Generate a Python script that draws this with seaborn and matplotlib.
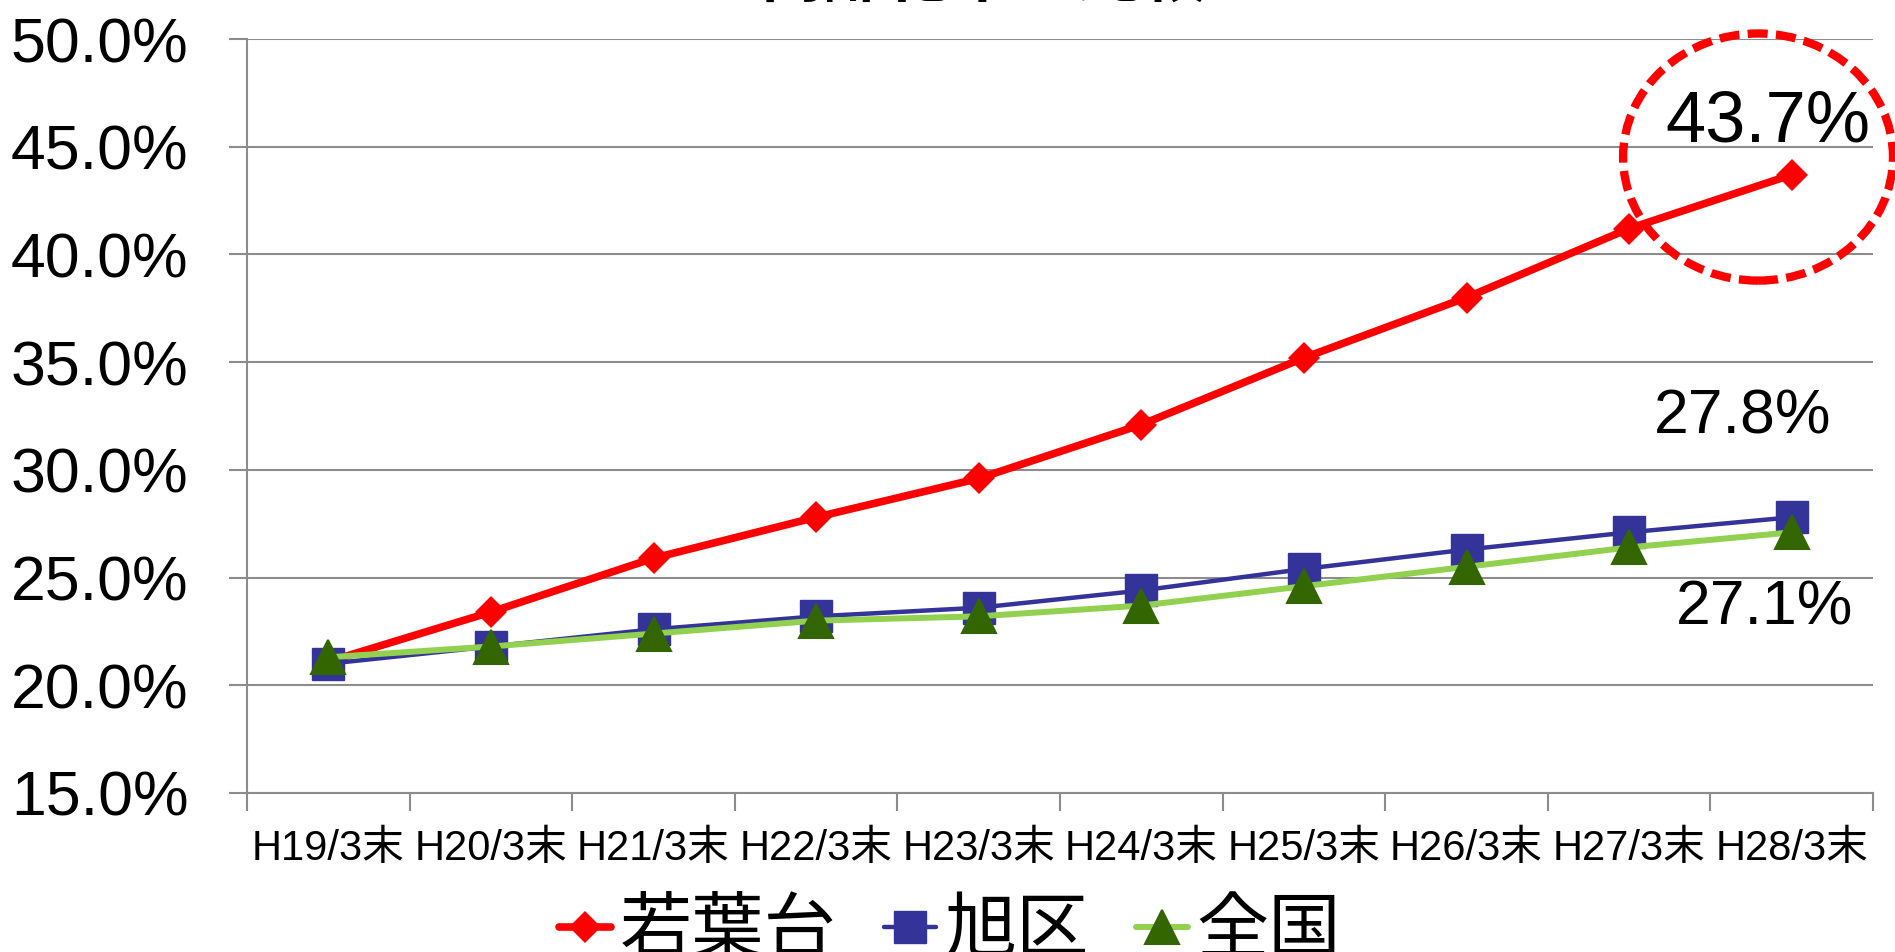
import matplotlib
matplotlib.use("Agg")
import matplotlib.pyplot as plt
from matplotlib.patches import Ellipse
from matplotlib.lines import Line2D
from matplotlib.ticker import FixedLocator, FuncFormatter
import pandas as pd
import seaborn as sns

# ---- data -------------------------------------------------------------
periods = ["H19/3末", "H20/3末", "H21/3末", "H22/3末", "H23/3末",
           "H24/3末", "H25/3末", "H26/3末", "H27/3末", "H28/3末"]
wakabadai = [21.1, 23.4, 25.9, 27.8, 29.6, 32.1, 35.2, 38.0, 41.2, 43.7]
asahi_ku = [21.0, 21.8, 22.6, 23.2, 23.6, 24.4, 25.4, 26.3, 27.1, 27.8]
zenkoku = [21.3, 21.8, 22.4, 23.0, 23.2, 23.7, 24.6, 25.5, 26.4, 27.1]
series_names = ["若葉台", "旭区", "全国"]
title_text = "高齢化率の比較"
y_ticks = [15, 20, 25, 30, 35, 40, 45, 50]

# ---- styling ------------------------------------------------------------
sns.set_theme(style="white")
plt.rcParams["font.family"] = ["Liberation Sans", "Noto Sans CJK JP", "DejaVu Sans"]
plt.rcParams["text.color"] = "black"
plt.rcParams["xtick.labelcolor"] = "black"
plt.rcParams["ytick.labelcolor"] = "black"

GRID = "#8C8C8C"
styles = {
    "若葉台": dict(color="#FF0000", marker="D", markersize=16.5, linewidth=5.5,
                 markerfacecolor="#FF0000", markeredgewidth=0, zorder=3),
    "旭区": dict(color="#333399", marker="s", markersize=23, linewidth=3.2,
               markerfacecolor="#333399", markeredgecolor="#333399",
               markeredgewidth=1, zorder=4),
    "全国": dict(color="#92D050", marker="^", markersize=25, linewidth=4.3,
               markerfacecolor="#336600", markeredgecolor="#336600",
               markeredgewidth=1.5, zorder=5),
}

df = pd.DataFrame({"period": periods * 3,
                   "rate": wakabadai + asahi_ku + zenkoku,
                   "area": [n for n in series_names for _ in periods]})

fig = plt.figure(figsize=(18.95, 9.52), dpi=100)
ax = fig.add_axes([247 / 1895, 1 - 793 / 952, (1873 - 247) / 1895, (793 - 39) / 952])

for name in series_names:
    sub = df[df["area"] == name]
    st = dict(styles[name])
    z = st.pop("zorder")
    sns.lineplot(data=sub, x="period", y="rate", ax=ax, sort=False,
                 legend=False, zorder=z, solid_joinstyle="round", **st)

# ---- axes -----------------------------------------------------------------
ax.set_xlim(-0.5, len(periods) - 0.5)
ax.set_ylim(y_ticks[0], y_ticks[-1])
ax.set_xlabel("")
ax.set_ylabel("")
ax.yaxis.set_major_locator(FixedLocator(y_ticks))
ax.yaxis.set_major_formatter(FuncFormatter(lambda v, _: f"{v:.1f}%"))
ax.xaxis.set_major_locator(FixedLocator(range(len(periods))))
ax.set_xticklabels(periods)
ax.xaxis.set_minor_locator(FixedLocator([i - 0.5 for i in range(len(periods) + 1)]))

ax.grid(axis="y", color=GRID, linewidth=1.5)
ax.grid(axis="x", visible=False)
ax.set_axisbelow(True)
for side in ("top", "right"):
    ax.spines[side].set_visible(False)
for side in ("left", "bottom"):
    ax.spines[side].set_color(GRID)
    ax.spines[side].set_linewidth(1.5)

ax.tick_params(axis="y", which="major", direction="out", length=13, width=1.5,
               color=GRID, pad=29, labelsize=45, left=True, labelcolor="black")
ax.tick_params(axis="x", which="major", length=0, pad=26, labelsize=30,
               labelcolor="black")
ax.tick_params(axis="x", which="minor", direction="out", length=13, width=1.5,
               color=GRID, bottom=True)

# ---- value labels for the last period --------------------------------------
last = len(periods) - 1
ax.annotate(f"{wakabadai[-1]:.1f}%", (last, wakabadai[-1]), xytext=(-24, 52),
            textcoords="offset pixels", ha="center", va="center", fontsize=52,
            color="black", zorder=6)
ax.annotate(f"{asahi_ku[-1]:.1f}%", (last, asahi_ku[-1]), xytext=(-49, 100),
            textcoords="offset pixels", ha="center", va="center", fontsize=45,
            color="black", zorder=6)
ax.annotate(f"{zenkoku[-1]:.1f}%", (last, zenkoku[-1]), xytext=(-27, -76),
            textcoords="offset pixels", ha="center", va="center", fontsize=45,
            color="black", zorder=6)

# dashed highlight ring around the latest 若葉台 value
ring = Ellipse((8.793, 44.52), width=1.66, height=11.47, fill=False,
               edgecolor="#FF0000", linewidth=6, linestyle=(0, (2.4, 1.0)),
               clip_on=False, zorder=7)
ax.add_patch(ring)

# ---- title (runs off the top edge) -----------------------------------------
fig.text(983 / 1895, 1 - 9 / 952, title_text, ha="center", va="bottom",
         fontsize=46, fontweight="bold", color="black")

# ---- legend -----------------------------------------------------------------
handles = []
for name in series_names:
    st = dict(styles[name])
    st.pop("zorder")
    handles.append(Line2D([], [], solid_capstyle="round", **st))
leg = fig.legend(handles, series_names, loc="upper center",
                 bbox_to_anchor=(950 / 1895, 1 - 900 / 952), ncol=3, frameon=False,
                 fontsize=52, handlelength=0.72, handletextpad=0.12,
                 columnspacing=0.65, borderpad=0, borderaxespad=0)
for t in leg.get_texts():
    t.set_color("black")

fig.savefig("out.png", dpi=100)
